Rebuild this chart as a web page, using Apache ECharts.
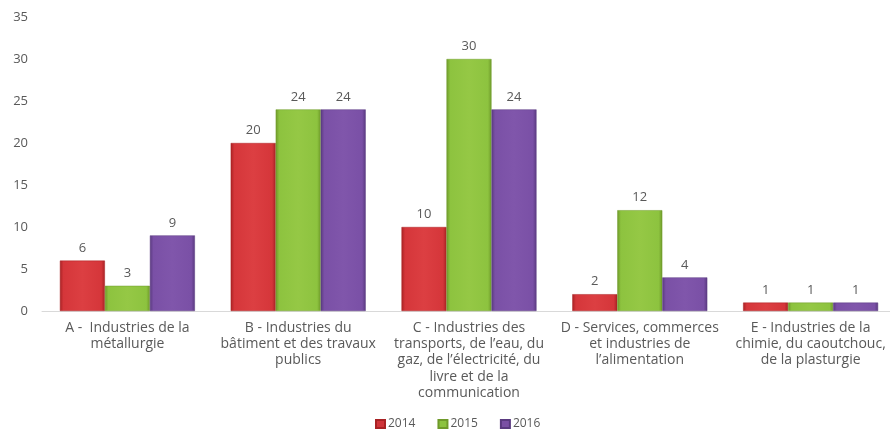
<!DOCTYPE html>
<html>
<head>
<meta charset="utf-8">
<script src="https://cdn.jsdelivr.net/npm/echarts@6/dist/echarts.min.js"></script>
<style>
  html, body { margin: 0; padding: 0; background: #ffffff; overflow: hidden; }
  #chart { width: 896px; height: 430px; }
</style>
</head>
<body>
<div id="chart"></div>
<script>
// Sector categories (line breaks follow the printed wrapping)
const categories = [
  "A -  Industries de la\nmétallurgie",
  "B - Industries du\nbâtiment et des travaux\npublics",
  "C - Industries des\ntransports, de l’eau, du\ngaz, de l’électricité, du\nlivre et de la\ncommunication",
  "D - Services, commerces\net industries de\nl’alimentation",
  "E - Industries de la\nchimie, du caoutchouc,\nde la plasturgie"
];

const years = ["2014", "2015", "2016"];

const values2014 = [6, 20, 10, 2, 1];
const values2015 = [3, 24, 30, 12, 1];
const values2016 = [9, 24, 24, 4, 1];

const yTicks = { min: 0, max: 35, interval: 5 };

// Bevelled look: darker edges, brighter middle
function bevel(edge, mid, light) {
  return new echarts.graphic.LinearGradient(0, 0, 1, 0, [
    { offset: 0, color: edge },
    { offset: 0.08, color: mid },
    { offset: 0.5, color: light },
    { offset: 0.92, color: mid },
    { offset: 1, color: edge }
  ]);
}

const palette = [
  { edge: "#a82224", mid: "#d5363a", light: "#dc3f42", legend: "#d0343a" },
  { edge: "#6f9a2a", mid: "#8dc33f", light: "#95c845", legend: "#8cc23f" },
  { edge: "#5a3a80", mid: "#7a50a6", light: "#8056ab", legend: "#7a50a4" }
];

const seriesData = [values2014, values2015, values2016];

const labelColor = "#595959";
const fontFamily = "'Open Sans', 'Liberation Sans', sans-serif";

const chart = echarts.init(document.getElementById("chart"), null, { renderer: "canvas" });

chart.setOption({
  animation: false,
  backgroundColor: "#ffffff",
  textStyle: { fontFamily: fontFamily },
  // plot area runs slightly past the right edge of the visible window
  grid: { left: 42, top: 17, right: 0, bottom: 119, containLabel: false },
  legend: {
    data: years.map((y, i) => ({ name: y, itemStyle: { color: palette[i].legend } })),
    top: 418,
    left: 375,
    padding: 0,
    itemWidth: 9,
    itemHeight: 8,
    itemGap: 22,
    icon: "rect",
    textStyle: { color: labelColor, fontSize: 12, fontFamily: fontFamily, padding: [0, 0, 0, -2] }
  },
  xAxis: {
    type: "category",
    data: categories,
    axisLine: { show: true, lineStyle: { color: "#d9d9d9", width: 1 } },
    axisTick: { show: false },
    axisLabel: {
      interval: 0,
      color: labelColor,
      fontSize: 14,
      lineHeight: 16.2,
      margin: 9,
      fontFamily: fontFamily
    }
  },
  yAxis: {
    type: "value",
    min: yTicks.min,
    max: yTicks.max,
    interval: yTicks.interval,
    splitLine: { show: false },
    axisLine: { show: false },
    axisTick: { show: false },
    axisLabel: { color: labelColor, fontSize: 13, margin: 14, fontFamily: fontFamily }
  },
  series: seriesData.map((vals, i) => ({
    name: years[i],
    type: "bar",
    data: vals,
    barWidth: 45,
    barGap: "0%",
    itemStyle: {
      color: bevel(palette[i].edge, palette[i].mid, palette[i].light),
      borderColor: palette[i].edge,
      borderWidth: 0.5
    },
    label: {
      show: true,
      position: "top",
      distance: 6,
      color: labelColor,
      fontSize: 13,
      fontFamily: fontFamily
    }
  }))
});
</script>
</body>
</html>
